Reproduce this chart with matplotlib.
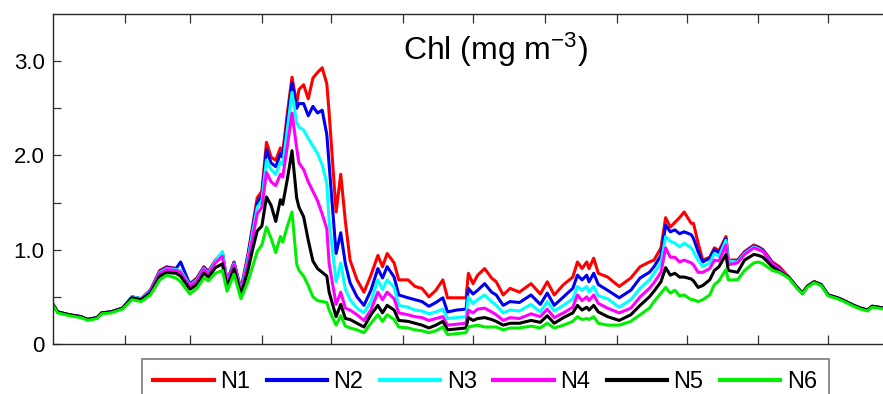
import matplotlib
matplotlib.use("Agg")
import matplotlib.pyplot as plt

plt.rcParams['font.family'] = ['Liberation Sans', 'DejaVu Sans']
plt.rcParams['mathtext.fontset'] = 'custom'
plt.rcParams['mathtext.rm'] = 'Liberation Sans'
plt.rcParams['mathtext.default'] = 'regular'

# day of year
days = [0, 2, 7, 12, 15, 19, 21, 25, 30, 34,
        38, 42, 46, 49, 53, 55, 59, 62, 65, 67,
        70, 73, 75, 78, 81, 84, 86, 88, 90, 92,
        94, 96, 98, 99, 101, 103, 105, 106, 108, 110,
        112, 114, 116, 118, 119, 122, 124, 126, 128, 131,
        134, 137, 140, 142, 144, 147, 149, 153, 156, 159,
        162, 165, 168, 170, 174, 178, 179, 181, 183, 186,
        189, 191, 194, 197, 201, 206, 210, 213, 216, 220,
        224, 226, 228, 230, 231, 233, 235, 239, 244, 249,
        253, 257, 259, 262, 264, 266, 268, 270, 272, 275,
        276, 278, 280, 283, 285, 287, 290, 291, 295, 298,
        302, 304, 306, 310, 313, 317, 321, 323, 325, 328,
        331, 334, 338, 340, 345, 348, 351, 353, 358, 364]

n1 = [.42, .34, .31, .29, .26, .28, .33, .34, .38, .50,
      .48, .57, .78, .82, .80, .76, .64, .70, .82, .77,
      .89, .96, .67, .87, .58, .95, 1.25, 1.55, 1.62, 2.14,
      1.98, 1.95, 2.08, 2.03, 2.45, 2.83, 2.55, 2.70, 2.75, 2.60,
      2.82, 2.88, 2.93, 2.76, 2.45, 1.40, 1.80, 1.30, .89, .68,
      .55, .73, .94, .82, .96, .86, .68, .68, .61, .59,
      .50, .57, .68, .49, .49, .49, .75, .64, .73, .80,
      .70, .66, .52, .59, .55, .64, .53, .66, .52, .63,
      .71, .87, .80, .87, .80, .91, .75, .71, .61, .70,
      .82, .87, .89, 1.02, 1.34, 1.24, 1.29, 1.34, 1.40, 1.28,
      1.28, 1.07, .89, .92, 1.02, .99, 1.14, .89, .89, .98,
      1.05, 1.03, 1.00, .87, .82, .71, .59, .54, .61, .66,
      .63, .52, .49, .47, .41, .38, .36, .40, .38, .38]

n2 = [.42, .34, .31, .29, .26, .28, .33, .34, .38, .50,
      .48, .57, .77, .81, .80, .87, .63, .69, .81, .76,
      .88, .97, .66, .86, .57, .93, 1.22, 1.50, 1.58, 2.06,
      1.92, 1.88, 2.02, 1.98, 2.38, 2.77, 2.50, 2.55, 2.55, 2.42,
      2.52, 2.45, 2.48, 2.22, 1.90, .96, 1.18, .85, .65, .50,
      .41, .57, .80, .70, .82, .71, .52, .49, .47, .45,
      .40, .44, .49, .34, .36, .37, .59, .53, .57, .64,
      .55, .52, .41, .45, .44, .52, .42, .54, .41, .50,
      .59, .73, .68, .73, .66, .75, .63, .57, .49, .57,
      .70, .76, .82, .94, 1.26, 1.19, 1.21, 1.17, 1.19, 1.16,
      1.12, .98, .87, .91, 1.00, .97, 1.12, .88, .88, .97,
      1.04, 1.02, .99, .86, .80, .71, .59, .54, .61, .66,
      .63, .52, .49, .47, .41, .38, .36, .40, .38, .38]

n3 = [.42, .34, .31, .29, .26, .28, .33, .34, .38, .50,
      .48, .56, .76, .80, .79, .78, .62, .68, .80, .75,
      .88, .98, .65, .85, .56, .90, 1.18, 1.45, 1.52, 1.95,
      1.85, 1.80, 1.93, 1.90, 2.28, 2.67, 2.35, 2.30, 2.27, 2.18,
      2.10, 2.02, 1.90, 1.70, 1.30, .66, .86, .58, .47, .38,
      .33, .45, .68, .58, .68, .60, .41, .39, .36, .35,
      .32, .34, .37, .27, .28, .29, .50, .43, .47, .52,
      .45, .41, .33, .36, .35, .42, .34, .45, .35, .41,
      .48, .61, .57, .61, .55, .61, .51, .48, .39, .47,
      .59, .68, .75, .86, 1.14, 1.09, 1.07, 1.03, 1.07, 1.02,
      .98, .89, .82, .86, .96, .93, 1.10, .88, .87, .96,
      1.03, 1.01, .98, .85, .79, .71, .59, .54, .61, .66,
      .63, .52, .49, .47, .41, .38, .36, .40, .38, .38]

n4 = [.42, .34, .31, .29, .26, .28, .33, .34, .38, .49,
      .47, .56, .75, .79, .78, .76, .61, .67, .79, .74,
      .86, .93, .64, .84, .55, .86, 1.12, 1.38, 1.45, 1.82,
      1.72, 1.68, 1.80, 1.77, 2.10, 2.45, 2.08, 1.92, 1.85, 1.72,
      1.62, 1.52, 1.38, 1.22, .85, .42, .55, .38, .36, .31,
      .25, .36, .55, .47, .55, .48, .33, .31, .29, .28,
      .25, .27, .29, .20, .21, .22, .36, .33, .37, .38,
      .34, .31, .25, .28, .27, .32, .29, .37, .28, .33,
      .39, .52, .46, .50, .46, .52, .43, .38, .33, .38,
      .50, .59, .65, .76, 1.02, .92, .92, .87, .89, .86,
      .84, .76, .76, .80, .89, .88, 1.05, .84, .86, .95,
      1.02, 1.00, .98, .85, .79, .71, .59, .54, .61, .66,
      .63, .52, .49, .47, .41, .38, .36, .40, .38, .38]

n5 = [.42, .34, .31, .29, .26, .28, .33, .34, .38, .49,
      .47, .54, .72, .76, .75, .72, .58, .63, .75, .71,
      .81, .85, .60, .80, .52, .78, 1.00, 1.20, 1.25, 1.56,
      1.47, 1.30, 1.53, 1.48, 1.75, 2.05, 1.55, 1.45, 1.35, 1.10,
      .88, .80, .76, .72, .55, .29, .42, .27, .26, .22,
      .18, .31, .41, .33, .41, .36, .25, .24, .22, .20,
      .17, .20, .24, .15, .16, .17, .28, .25, .27, .28,
      .26, .24, .20, .22, .22, .25, .23, .30, .22, .28,
      .33, .41, .36, .39, .36, .41, .34, .29, .25, .31,
      .41, .50, .56, .66, .81, .73, .75, .71, .71, .69,
      .67, .60, .62, .68, .78, .82, .95, .78, .76, .89,
      .95, .94, .92, .82, .77, .71, .59, .54, .61, .66,
      .63, .52, .49, .47, .41, .38, .36, .40, .38, .38]

n6 = [.41, .33, .30, .28, .25, .27, .32, .33, .37, .47,
      .45, .52, .68, .73, .70, .66, .53, .59, .70, .67,
      .75, .78, .56, .74, .48, .66, .82, .98, 1.05, 1.24,
      1.12, .97, 1.14, 1.08, 1.25, 1.40, .85, .78, .72, .62,
      .50, .46, .45, .44, .36, .20, .30, .19, .17, .15,
      .12, .22, .31, .24, .31, .26, .18, .17, .15, .14,
      .12, .14, .18, .10, .11, .12, .18, .19, .20, .18,
      .18, .18, .15, .17, .17, .19, .17, .22, .17, .20,
      .24, .29, .26, .27, .26, .29, .22, .20, .20, .24,
      .31, .38, .45, .54, .60, .54, .57, .51, .52, .47,
      .47, .45, .47, .52, .63, .67, .79, .68, .68, .78,
      .86, .87, .85, .78, .76, .70, .58, .53, .60, .65,
      .62, .51, .48, .46, .40, .37, .35, .39, .37, .37]

series = [n1, n2, n3, n4, n5, n6]
labels = ['N1', 'N2', 'N3', 'N4', 'N5', 'N6']
colors = ['#ff0000', '#0000ee', '#00ffff', '#ff00ff', '#000000', '#00ee00']

month_starts = [31, 59, 90, 120, 151, 181, 212, 243, 273, 304, 334]

fig = plt.figure(figsize=(8.83, 3.94), dpi=100)
# axes run past the right edge of the picture (the reference is cropped there)
ax = fig.add_axes([53 / 883, 50 / 394, 847 / 883, 330 / 394])

for vals, lab, col in zip(series, labels, colors):
    ax.plot(days, vals, color=col, lw=2.2, label=lab)

ax.set_xlim(0, 365)
ax.set_ylim(0, 3.5)
ax.set_xticks(month_starts)
ax.set_xticklabels([])
ax.set_yticks([0, 1, 2, 3])
ax.set_yticklabels(['0', '1.0', '2.0', '3.0'])
ax.set_yticks([0.5, 1.5, 2.5], minor=True)
ax.tick_params(axis='x', direction='in', top=True, length=6.5, width=0.9, color='0.2')
ax.tick_params(axis='y', which='both', direction='in', length=6, width=0.9,
               color='0.2', labelsize=16, pad=6)
for sp in ax.spines.values():
    sp.set_linewidth(1.0)
    sp.set_color('0.15')

ax.text(0.523, (344 - 60) / 330, r'Chl (mg m$^{-3}$)', transform=ax.transAxes,
        ha='center', va='baseline', fontsize=23)

leg = fig.legend(loc='upper left', bbox_to_anchor=(141.5 / 883, 1 - 359 / 394),
                 ncol=6, borderaxespad=0, frameon=True, fancybox=False,
                 handlelength=2.55, handletextpad=0.28, columnspacing=0.7,
                 borderpad=0.5,
                 prop={'family': ['Liberation Sans Narrow', 'Liberation Sans'], 'size': 17})
leg.get_frame().set_edgecolor('0.35')
leg.get_frame().set_linewidth(1.2)
for line in leg.get_lines():
    line.set_linewidth(3.0)

fig.savefig('out.png', dpi=100)
